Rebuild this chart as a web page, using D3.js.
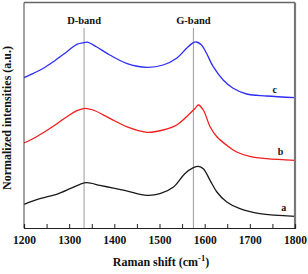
<!doctype html>
<html>
<head>
<meta charset="utf-8">
<script src="https://d3js.org/d3.v7.min.js"></script>
<style>
  body { margin: 0; background: #fff; }
  svg { display: block; }
  text { font-family: "Liberation Serif", "DejaVu Serif", serif; font-weight: bold; fill: #111; }
</style>
</head>
<body>
<script>
// Raman spectra (arbitrary normalized units)
var shiftA = [1200, 1235, 1272, 1302, 1324, 1339, 1368, 1398, 1427, 1472, 1501, 1531, 1556, 1575, 1586, 1597, 1612, 1627, 1649, 1678, 1722, 1800];
var valA   = [23.7, 29.3, 33.7, 39.3, 43.7, 45.3, 42.7, 39.8, 37.2, 32.7, 34.3, 41, 54.3, 60.3, 61.7, 59.3, 47.7, 36, 26, 19.3, 14.3, 11.7];

var shiftB = [1200, 1228, 1258, 1295, 1317, 1335, 1353, 1390, 1427, 1472, 1508, 1538, 1564, 1579, 1586, 1597, 1612, 1627, 1649, 1671, 1700, 1737, 1800];
var valB   = [85, 91.3, 99.7, 111.3, 117.3, 119.7, 118, 109.7, 101.3, 95.7, 98, 103, 113, 119.7, 123, 118, 101.3, 91.3, 82.7, 76, 71.7, 69.3, 67.7];

var shiftC = [1200, 1221, 1243, 1265, 1295, 1317, 1333, 1342, 1360, 1390, 1427, 1472, 1508, 1538, 1560, 1575, 1582, 1593, 1604, 1619, 1641, 1663, 1693, 1737, 1800];
var valC   = [150.3, 154.7, 159.7, 166.3, 176.3, 183.7, 185.3, 185.7, 181.3, 173, 164.7, 160.7, 163, 169.7, 179.7, 185.3, 186, 183, 174.7, 161.3, 148, 139.7, 134, 132, 130.3];

var seriesNames = ["a", "b", "c"];
var bandPos = [1333, 1575];
var bandNames = ["D-band", "G-band"];
var xTicks = [1200, 1300, 1400, 1500, 1600, 1700, 1800];

var width = 308, height = 274;
var m = { left: 24, right: 13, top: 2.5, bottom: 46 };

var svg = d3.select("body").append("svg")
  .attr("width", width)
  .attr("height", height);

var x = d3.scaleLinear().domain([1200, 1800]).range([m.left, width - m.right]);
var y = d3.scaleLinear().domain([0, 225.5]).range([height - m.bottom, m.top]);

// band markers
svg.selectAll(".band")
  .data(bandPos)
  .enter().append("line")
    .attr("x1", function(d) { return x(d); })
    .attr("x2", function(d) { return x(d); })
    .attr("y1", 28)
    .attr("y2", y(0))
    .attr("stroke", "#9a9a9a")
    .attr("stroke-width", 1);

svg.selectAll(".bandlabel")
  .data(bandPos)
  .enter().append("text")
    .attr("x", function(d) { return x(d); })
    .attr("y", 24)
    .attr("text-anchor", "middle")
    .style("font-size", "10.5px")
    .text(function(d, i) { return bandNames[i]; });

// spectra
var series = [
  { k: shiftA, v: valA, color: "#1a1a1a" },
  { k: shiftB, v: valB, color: "#f21d1d" },
  { k: shiftC, v: valC, color: "#2d2df5" }
];

var line = d3.line()
  .x(function(d) { return x(d[0]); })
  .y(function(d) { return y(d[1]); })
  .curve(d3.curveCatmullRom.alpha(0.5));

svg.selectAll(".spec")
  .data(series)
  .enter().append("path")
    .attr("d", function(s) { return line(d3.zip(s.k, s.v)); })
    .attr("fill", "none")
    .attr("stroke", function(s) { return s.color; })
    .attr("stroke-width", 1.3);

// series letters, placed near the right end of each curve
var letterAt = [1775, 1768, 1755];
svg.selectAll(".letter")
  .data(series)
  .enter().append("text")
    .attr("x", function(s, i) { return x(letterAt[i]); })
    .attr("y", function(s, i) { return y(s.v[s.v.length - 1]) - 5; })
    .attr("text-anchor", "middle")
    .style("font-size", "10px")
    .text(function(s, i) { return seriesNames[i]; });

// frame
svg.append("line").attr("x1", x(1200)).attr("x2", x(1800)).attr("y1", m.top).attr("y2", m.top)
  .attr("stroke", "#666").attr("stroke-width", 1.5);
svg.append("line").attr("x1", x(1800)).attr("x2", x(1800)).attr("y1", m.top).attr("y2", y(0))
  .attr("stroke", "#777").attr("stroke-width", 2.2);
svg.append("line").attr("x1", x(1200)).attr("x2", x(1200)).attr("y1", m.top).attr("y2", y(0))
  .attr("stroke", "#444").attr("stroke-width", 1);

var xAxis = d3.axisBottom(x)
  .tickValues(d3.range(1200, 1801, 50))
  .tickSize(-4)
  .tickFormat(function(d) { return xTicks.indexOf(d) >= 0 ? d : ""; });

var gx = svg.append("g")
  .attr("transform", "translate(0," + y(0) + ")")
  .call(xAxis);
gx.select(".domain").attr("stroke", "#222").attr("stroke-width", 1.2);
gx.selectAll(".tick line").attr("stroke", "#222");
gx.selectAll(".tick text")
  .attr("y", 8)
  .style("font-size", "11.5px")
  .style("font-family", "Liberation Serif, serif")
  .style("font-weight", "bold")
  .attr("fill", "#111");

// axis titles
var xt = svg.append("text")
  .attr("x", 161)
  .attr("y", 266)
  .attr("text-anchor", "middle")
  .style("font-size", "12px");
xt.append("tspan").text("Raman shift (cm");
xt.append("tspan").attr("dy", -5).style("font-size", "8.5px").text("-1");
xt.append("tspan").attr("dy", 5).text(")");

svg.append("text")
  .attr("transform", "translate(11,118) rotate(-90)")
  .attr("text-anchor", "middle")
  .style("font-size", "12px")
  .text("Normalized intensities (a.u.)");
</script>
</body>
</html>
